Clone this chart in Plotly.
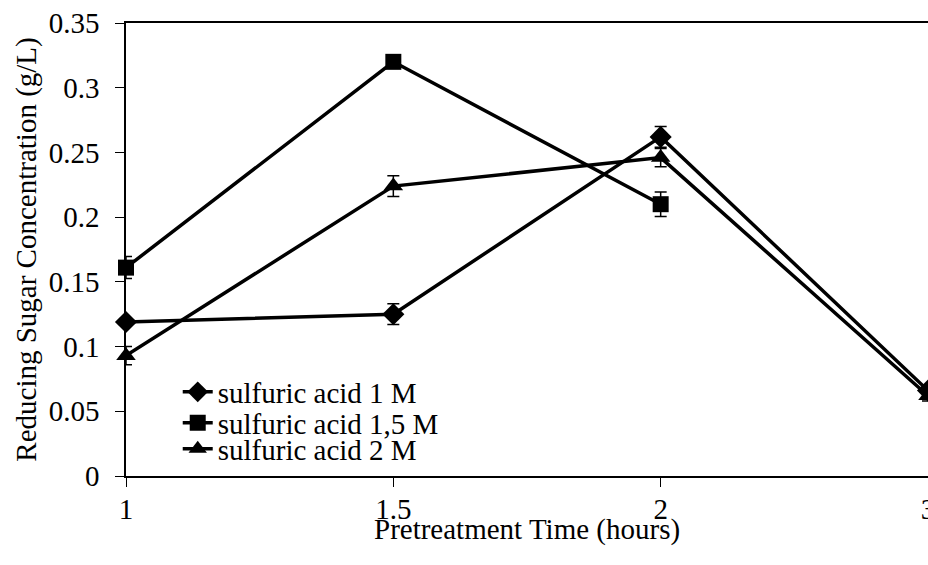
import plotly.graph_objects as go

# Data
categories = ["1", "1.5", "2", "3"]
series_names = ["sulfuric acid 1 M", "sulfuric acid 1,5 M", "sulfuric acid 2 M"]
acid_1M = [0.119, 0.125, 0.262, 0.066]
acid_15M = [0.161, 0.320, 0.210, None]
acid_2M = [0.093, 0.224, 0.246, 0.062]
err_1M = [0.003, 0.008, 0.008, 0.004]
err_15M = [0.0085, 0.003, 0.0095, 0]
err_2M = [0.007, 0.008, 0.007, 0.004]
y_ticks = [0, 0.05, 0.1, 0.15, 0.2, 0.25, 0.3, 0.35]
y_tick_text = ["0", "0.05", "0.1", "0.15", "0.2", "0.25", "0.3", "0.35"]
x_title = "Pretreatment Time (hours)"
y_title = "Reducing Sugar Concentration (g/L)"

FONT = "Liberation Serif, Times New Roman, serif"
FS = 29

fig = go.Figure()
styles = [("diamond", 17), ("square", 16), ("triangle-up", 17)]
legend_ids = ["legend", "legend2", "legend3"]
for name, vals, errs, (sym, sz), lg in zip(series_names, [acid_1M, acid_15M, acid_2M],
                                           [err_1M, err_15M, err_2M], styles, legend_ids):
    fig.add_trace(go.Scatter(
        x=categories, y=vals, name=name, mode="lines+markers",
        line=dict(color="black", width=3.5),
        marker=dict(symbol=sym, size=sz, color="black"),
        error_y=dict(type="data", array=errs, visible=True, color="black",
                     thickness=1.5, width=6),
        cliponaxis=False, connectgaps=False, legend=lg,
    ))

leg_common = dict(xanchor="left", yanchor="middle", bgcolor="rgba(0,0,0,0)",
                  font=dict(size=FS, family=FONT, color="black"), x=0.0645)
fig.update_layout(
    width=928, height=565,
    margin=dict(l=126, r=0, t=23, b=89),
    paper_bgcolor="white", plot_bgcolor="white",
    font=dict(family=FONT, size=FS, color="black"),
    showlegend=True,
    legend=dict(y=0.1854, **leg_common),
    legend2=dict(y=0.117, **leg_common),
    legend3=dict(y=0.060, **leg_common),
    xaxis=dict(type="category", range=[0, 3], showgrid=False, automargin=False,
               showline=True, linecolor="black", linewidth=1.5, mirror=True,
               ticks="outside", ticklen=9, tickwidth=1, tickcolor="black",
               ticklabelstandoff=-3,
               tickfont=dict(size=FS, family=FONT), zeroline=False),
    yaxis=dict(range=[0, 0.35], showgrid=False, zeroline=False, automargin=False,
               tickvals=y_ticks, ticktext=y_tick_text,
               showline=True, linecolor="black", linewidth=1.5,
               ticks="outside", ticklen=9, tickwidth=1, tickcolor="black",
               ticklabelstandoff=10,
               tickfont=dict(size=FS, family=FONT),
               title=dict(text=y_title, font=dict(size=FS, family=FONT), standoff=4)),
    annotations=[dict(text=x_title, xref="paper", yref="paper", x=0.5, y=-0.119,
                      xanchor="center", yanchor="middle", showarrow=False,
                      font=dict(size=FS, family=FONT, color="black"))],
)

fig.write_html("out.html", config={"displayModeBar": False},
               post_script="document.body.style.margin='0';document.body.style.overflow='hidden';")
